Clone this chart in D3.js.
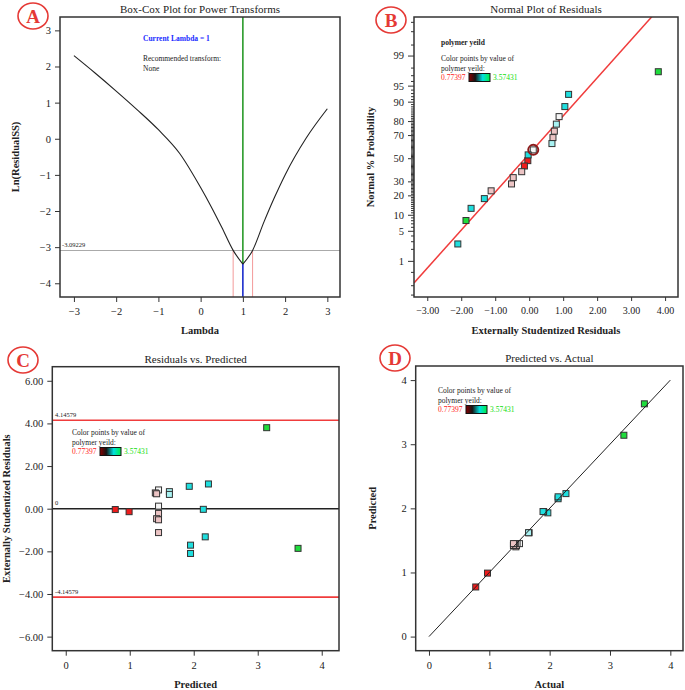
<!DOCTYPE html>
<html>
<head>
<meta charset="utf-8">
<script src="https://cdn.jsdelivr.net/npm/d3@7"></script>
<style>
body { margin: 0; background: #fff; }
text { font-family: 'Liberation Serif', 'Times New Roman', serif; fill: #222; }
.frame { fill: none; stroke: #333; stroke-width: 1.5; }
.axis path { display: none; }
.axis line { stroke: #333; }
.axis text { font-size: 10.5px; fill: #222; }
.title { font-size: 11px; text-anchor: middle; }
.axis-label { font-size: 10.5px; font-weight: bold; text-anchor: middle; }
.note { font-size: 7.5px; }
.small { font-size: 6.5px; }
.tag { font-size: 19px; font-weight: bold; fill: #e53935; text-anchor: middle; }
</style>
</head>
<body>
<script>
// Box-Cox curve
var lambdas = [-3, -2.5, -2, -1.5, -1, -0.5, 0, 0.25, 0.5, 0.77, 1, 1.23, 1.5, 1.75, 2, 2.5, 3]
var lnResidualSS = [2.30, 1.82, 1.32, 0.80, 0.25, -0.40, -1.35, -1.88, -2.45, -3.09, -3.47, -3.09, -2.30, -1.62, -1.00, 0.02, 0.83]
var currentLambda = 1
var lambdaCI = [0.77, 1.23]
var lnResidualLimit = -3.09229

// runs
var actual = [0.775, 0.97, 1.50, 1.44, 1.45, 1.66, 1.65, 1.97, 2.27, 1.46, 2.14, 1.43, 1.40, 1.42, 1.40, 2.14, 1.90, 1.89, 3.23, 3.57]
var predicted = [0.774, 0.99, 1.45, 1.40, 1.42, 1.62, 1.62, 1.93, 2.23, 1.45, 2.15, 1.45, 1.42, 1.45, 1.45, 2.18, 1.95, 1.95, 3.14, 3.63]
var residuals = [-0.04, -0.14, 0.88, 0.74, 0.70, 0.80, 0.67, 1.05, 1.16, 0.12, -0.03, -0.22, -0.47, -0.52, -1.12, -1.32, -1.71, -2.10, 3.80, -1.86]
var normalPercent = [47.8, 43, 82.7, 73, 68, 78, 63, 87.9, 92.6, 57.5, 53, 38, 33, 28, 23, 18, 12.8, 2.6, 97.5, 7.9]
var highlightRun = 9

var residualLimit = 4.14579
var colorMin = 0.77397
var colorMax = 3.57431
var normalLineMean = -0.11
var normalLineSd = 1.16

var probTicks = [1, 5, 10, 20, 30, 50, 70, 80, 90, 95, 99]

var runs = actual.map(function (a, i) {
  return {actual: a, predicted: predicted[i], residual: residuals[i], pct: normalPercent[i]}
})

var pointColor = d3.scaleThreshold()
  .domain([1.2, 1.455, 1.55, 1.8, 2.8])
  .range(['#ee1c1c', '#ecc4c4', '#f6f6f6', '#a8f2f2', '#1fdede', '#1fdc3c'])

var svg = d3.select('body')
  .append('svg')
  .attr('width', 685)
  .attr('height', 690)

var defs = svg.append('defs')
var grad = defs.append('linearGradient').attr('id', 'cbar')
grad.append('stop').attr('offset', '0%').attr('stop-color', '#8b0000')
grad.append('stop').attr('offset', '30%').attr('stop-color', '#151515')
grad.append('stop').attr('offset', '65%').attr('stop-color', '#00e0e0')
grad.append('stop').attr('offset', '100%').attr('stop-color', '#00ee44')

function probit (p) {
  var a = [-39.69683028665376, 220.9460984245205, -275.9285104469687, 138.3577518672690, -30.66479806614716, 2.506628277459239]
  var b = [-54.47609879822406, 161.5858368580409, -155.6989798598866, 66.80131188771972, -13.28068155288572]
  var c = [-0.007784894002430293, -0.3223964580411365, -2.400758277161838, -2.549732539343734, 4.374664141464968, 2.938163982698783]
  var e = [0.007784695709041462, 0.3224671290700398, 2.445134137142996, 3.754408661907416]
  var q, r
  if (p < 0.02425) {
    q = Math.sqrt(-2 * Math.log(p))
    return (((((c[0] * q + c[1]) * q + c[2]) * q + c[3]) * q + c[4]) * q + c[5]) / ((((e[0] * q + e[1]) * q + e[2]) * q + e[3]) * q + 1)
  }
  if (p > 1 - 0.02425) return -probit(1 - p)
  q = p - 0.5
  r = q * q
  return (((((a[0] * r + a[1]) * r + a[2]) * r + a[3]) * r + a[4]) * r + a[5]) * q / (((((b[0] * r + b[1]) * r + b[2]) * r + b[3]) * r + b[4]) * r + 1)
}

function frame (x, y, title, xLabel, yLabel, yLabelX) {
  var x0 = x.range()[0], x1 = x.range()[1]
  var y0 = y.range()[1], y1 = y.range()[0]
  svg.append('rect').attr('class', 'frame')
    .attr('x', x0).attr('y', y0)
    .attr('width', x1 - x0).attr('height', y1 - y0)
  svg.append('text').attr('class', 'title')
    .attr('x', (x0 + x1) / 2).attr('y', y0 - 4)
    .text(title)
  svg.append('text').attr('class', 'axis-label')
    .attr('x', (x0 + x1) / 2).attr('y', y1 + 37)
    .text(xLabel)
  svg.append('text').attr('class', 'axis-label')
    .attr('transform', 'translate(' + yLabelX + ',' + (y0 + y1) / 2 + ') rotate(-90)')
    .text(yLabel)
}

function axes (x, y, xTicks, yTicks, xFmt, yFmt) {
  svg.append('g').classed('axis', true)
    .attr('transform', 'translate(0,' + y.range()[0] + ')')
    .call(d3.axisBottom(x).tickValues(xTicks).tickFormat(xFmt).tickSize(5).tickPadding(6))
  svg.append('g').classed('axis', true)
    .attr('transform', 'translate(' + x.range()[0] + ',0)')
    .call(d3.axisLeft(y).tickValues(yTicks).tickFormat(yFmt).tickSize(5).tickPadding(4))
}

function tag (cx, cy, letter) {
  svg.append('ellipse').attr('cx', cx).attr('cy', cy).attr('rx', 15).attr('ry', 13)
    .attr('fill', 'none').attr('stroke', '#e53935').attr('stroke-width', 1.6)
  svg.append('text').attr('class', 'tag').attr('x', cx).attr('y', cy + 6.5).text(letter)
}

function colorLegend (tx, ty, heading) {
  var lines = ['Color points by value of', 'polymer yeild:']
  if (heading) {
    svg.append('text').attr('class', 'note').attr('x', tx).attr('y', ty - 16)
      .style('font-weight', 'bold').text(heading)
  }
  lines.forEach(function (l, i) {
    svg.append('text').attr('class', 'note').attr('x', tx).attr('y', ty + i * 9.5).text(l)
  })
  svg.append('text').attr('class', 'note').attr('x', tx).attr('y', ty + 19)
    .style('fill', '#ff2020').text(colorMin)
  svg.append('rect').attr('x', tx + 28).attr('y', ty + 12.5).attr('width', 21).attr('height', 8)
    .attr('fill', 'url(#cbar)').attr('stroke', '#111').attr('stroke-width', 1)
  svg.append('text').attr('class', 'note').attr('x', tx + 52).attr('y', ty + 19)
    .style('fill', '#11dd11').text(colorMax)
}

function squares (data, fx, fy) {
  svg.append('g').selectAll('rect')
    .data(data)
    .enter()
      .append('rect')
      .attr('x', function (d) { return fx(d) - 3 })
      .attr('y', function (d) { return fy(d) - 3 })
      .attr('width', 6)
      .attr('height', 6)
      .attr('fill', function (d) { return pointColor(d.actual) })
      .attr('stroke', '#333')
      .attr('stroke-width', 1)
}

// ---------- A: Box-Cox ----------
var xA = d3.scaleLinear().domain([-3.33, 3.3]).range([60, 340])
var yA = d3.scaleLinear().domain([-4.38, 3.37]).range([297, 17])
var minIdx = lnResidualSS.indexOf(d3.min(lnResidualSS))
var minA = lnResidualSS[minIdx]

svg.append('line')
  .attr('x1', xA.range()[0]).attr('x2', xA.range()[1])
  .attr('y1', yA(lnResidualLimit)).attr('y2', yA(lnResidualLimit))
  .attr('stroke', '#aaa').attr('stroke-width', 1.2)
lambdaCI.forEach(function (l) {
  svg.append('line')
    .attr('x1', xA(l)).attr('x2', xA(l))
    .attr('y1', yA(lnResidualLimit)).attr('y2', yA.range()[0])
    .attr('stroke', '#f39a9a').attr('stroke-width', 1)
})
svg.append('line')
  .attr('x1', xA(currentLambda)).attr('x2', xA(currentLambda))
  .attr('y1', yA.range()[1]).attr('y2', yA(minA))
  .attr('stroke', '#2a9a2a').attr('stroke-width', 1.6)
svg.append('line')
  .attr('x1', xA(currentLambda)).attr('x2', xA(currentLambda))
  .attr('y1', yA(minA)).attr('y2', yA.range()[0])
  .attr('stroke', '#1a2ccc').attr('stroke-width', 1.6)

var boxcoxLine = d3.line()
  .curve(d3.curveMonotoneX)
  .x(function (d) { return xA(d[0]) })
  .y(function (d) { return yA(d[1]) })
var boxcox = lambdas.map(function (l, i) { return [l, lnResidualSS[i]] })
;[boxcox.slice(0, minIdx + 1), boxcox.slice(minIdx)].forEach(function (part) {
  svg.append('path')
    .datum(part)
    .attr('d', boxcoxLine)
    .attr('fill', 'none').attr('stroke', '#222').attr('stroke-width', 1.1)
})
svg.append('text').attr('class', 'small').attr('x', 62).attr('y', yA(lnResidualLimit) - 3).text(lnResidualLimit)
svg.append('text').attr('class', 'note').attr('x', 143).attr('y', 41)
  .style('fill', '#1a2cff').style('font-weight', 'bold').text('Current Lambda = ' + currentLambda)
svg.append('text').attr('class', 'note').attr('x', 143).attr('y', 61).text('Recommended transform:')
svg.append('text').attr('class', 'note').attr('x', 143).attr('y', 71).text('None')

frame(xA, yA, 'Box-Cox Plot for Power Transforms', 'Lambda', 'Ln(ResidualSS)', 19)
axes(xA, yA, d3.range(-3, 4), d3.range(-4, 4), d3.format('d'), d3.format('d'))
tag(33, 16, 'A')

// ---------- B: Normal plot ----------
var xB = d3.scaleLinear().domain([-3.39, 4.38]).range([414, 678])
var yB = d3.scaleLinear().domain([-3.145, 3.2]).range([297, 17])

defs.append('clipPath').attr('id', 'clipB').append('rect')
  .attr('x', 414).attr('y', 17).attr('width', 264).attr('height', 280)
svg.append('line')
  .attr('clip-path', 'url(#clipB)')
  .attr('x1', xB(xB.domain()[0])).attr('y1', yB((xB.domain()[0] - normalLineMean) / normalLineSd))
  .attr('x2', xB(xB.domain()[1])).attr('y2', yB((xB.domain()[1] - normalLineMean) / normalLineSd))
  .attr('stroke', '#f03c3c').attr('stroke-width', 1.5)

squares(runs, function (d) { return xB(d.residual) }, function (d) { return yB(probit(d.pct / 100)) })
svg.append('circle')
  .attr('cx', xB(runs[highlightRun].residual)).attr('cy', yB(probit(runs[highlightRun].pct / 100)))
  .attr('r', 5).attr('fill', 'none').attr('stroke', '#8b1a1a').attr('stroke-width', 2)

colorLegend(441, 61, 'polymer yeild')
frame(xB, yB, 'Normal Plot of Residuals', 'Externally Studentized Residuals', 'Normal % Probability', 374)
svg.append('g').classed('axis', true)
  .attr('transform', 'translate(0,' + yB.range()[0] + ')')
  .call(d3.axisBottom(xB).tickValues(d3.range(-3, 5)).tickFormat(d3.format('.2f')).tickSize(4).tickPadding(6))
  .selectAll('text').style('font-size', '10px')
var minorPct = [0.1, 0.2, 0.5, 99.5, 99.8, 99.9].concat(d3.range(1, 100).filter(function (p) {
  return probTicks.indexOf(p) < 0
}))
svg.append('g').classed('axis', true)
  .attr('transform', 'translate(414,0)')
  .call(d3.axisLeft(yB).tickValues(minorPct.map(function (p) { return probit(p / 100) }))
    .tickFormat('').tickSize(3))
svg.append('g').classed('axis', true)
  .attr('transform', 'translate(414,0)')
  .call(d3.axisLeft(yB).tickValues(probTicks.map(function (p) { return probit(p / 100) }))
    .tickFormat(function (d, i) { return probTicks[i] }).tickSize(6).tickPadding(4))
tag(391, 20, 'B')

// ---------- C: Residuals vs Predicted ----------
var xC = d3.scaleLinear().domain([-0.21, 4.27]).range([52.3, 339])
var yC = d3.scaleLinear().domain([-6.66, 6.66]).range([650.7, 366.7])

;[residualLimit, -residualLimit].forEach(function (v) {
  svg.append('line')
    .attr('x1', xC.range()[0]).attr('x2', xC.range()[1])
    .attr('y1', yC(v)).attr('y2', yC(v))
    .attr('stroke', '#f03c3c').attr('stroke-width', 1.6)
  svg.append('text').attr('class', 'small').attr('x', 55).attr('y', yC(v) - 3).text(v)
})
svg.append('line')
  .attr('x1', xC.range()[0]).attr('x2', xC.range()[1])
  .attr('y1', yC(0)).attr('y2', yC(0))
  .attr('stroke', '#222').attr('stroke-width', 1.4)
svg.append('text').attr('class', 'small').attr('x', 55).attr('y', yC(0) - 4).text('0')

squares(runs, function (d) { return xC(d.predicted) }, function (d) { return yC(d.residual) })
colorLegend(72, 435)
frame(xC, yC, 'Residuals vs. Predicted', 'Predicted', 'Externally Studentized Residuals', 10)
axes(xC, yC, d3.range(0, 5), d3.range(-6, 7, 2), d3.format('d'), d3.format('.2f'))
tag(23, 360, 'C')

// ---------- D: Predicted vs Actual ----------
var xD = d3.scaleLinear().domain([-0.22, 4.21]).range([415.7, 683])
var yD = d3.scaleLinear().domain([-0.22, 4.22]).range([650.7, 366])

squares(runs, function (d) { return xD(d.actual) }, function (d) { return yD(d.predicted) })
svg.append('line')
  .attr('x1', xD(0)).attr('y1', yD(0))
  .attr('x2', xD(4)).attr('y2', yD(4))
  .attr('stroke', '#222').attr('stroke-width', 1)
colorLegend(438, 393)
frame(xD, yD, 'Predicted vs. Actual', 'Actual', 'Predicted', 376)
axes(xD, yD, d3.range(0, 5), d3.range(0, 5), d3.format('d'), d3.format('d'))
tag(395, 358, 'D')
</script>
</body>
</html>
